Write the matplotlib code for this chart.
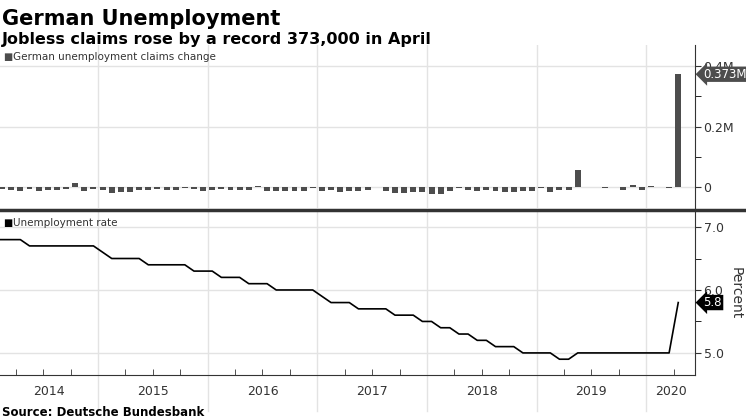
import numpy as np
import matplotlib
matplotlib.use("Agg")
import matplotlib.pyplot as plt

# Monthly, Jan 2014 .. Apr 2020 (thousands)
claims_k = [-10, -6, -8, -12, -6, -12, -8, -10, -5, 14, -14, -6,
            -10, -18, -16, -15, -8, -10, -5, -8, -10, -4, -6, -12,
            -10, -6, -10, -10, -8, 4, -14, -14, -14, -14, -14, -4,
            -14, -10, -16, -12, -14, -10, 0, -14, -18, -18, -16, -16,
            -22, -22, -12, -4, -10, -14, -10, -14, -16, -16, -14, -14,
            -4, -16, -8, -8, 58, 2, 0, -4, 2, -10,
            8, -8, 4, 0, -2, 373]
rate = [6.8, 6.8, 6.8, 6.8, 6.7, 6.7, 6.7, 6.7, 6.7, 6.7, 6.7, 6.7,
        6.6, 6.5, 6.5, 6.5, 6.5, 6.4, 6.4, 6.4, 6.4, 6.4, 6.3, 6.3,
        6.3, 6.2, 6.2, 6.2, 6.1, 6.1, 6.1, 6.0, 6.0, 6.0, 6.0, 6.0,
        5.9, 5.8, 5.8, 5.8, 5.7, 5.7, 5.7, 5.7, 5.6, 5.6, 5.6, 5.5,
        5.5, 5.4, 5.4, 5.3, 5.3, 5.2, 5.2, 5.1, 5.1, 5.1, 5.0, 5.0,
        5.0, 5.0, 4.9, 4.9, 5.0, 5.0, 5.0, 5.0, 5.0, 5.0, 5.0, 5.0,
        5.0, 5.0, 5.0, 5.8]
years = [2014, 2015, 2016, 2017, 2018, 2019, 2020]

t = 2014 + np.arange(len(rate)) / 12 + 1 / 24
xmin, xmax = 2014.106, 2020.447

fig = plt.figure(figsize=(7.46, 4.18), dpi=100)
fig.patch.set_facecolor("white")
fig.text(0.003, 0.94, "German Unemployment", fontsize=15, fontweight="bold")
fig.text(0.003, 0.895, "Jobless claims rose by a record 373,000 in April", fontsize=11.5, fontweight="bold")
fig.text(0.003, 0.005, "Source: Deutsche Bundesbank", fontsize=8.5, fontweight="bold")

ax1 = fig.add_axes([0.0, 0.502, 0.932, 0.39])
ax2 = fig.add_axes([0.0, 0.103, 0.932, 0.39])

ax1.bar(t, np.array(claims_k) / 1000, width=1 / 12 * 0.65, color="#4d4d4d")
ax1.set_ylim(-0.069, 0.469)
ax1.set_yticks([0, 0.2, 0.4])
ax1.set_yticklabels(["0", "0.2M", "0.4M"])
ax1.set_yticks([0.1, 0.3], minor=True)
ax1.axhline(0, color="#888888", lw=0.6, ls=(0, (4, 3)), zorder=0)

ax2.plot(t, rate, color="black", lw=1.2)
ax2.set_ylim(4.65, 7.24)
ax2.set_yticks([5.0, 6.0, 7.0])
ax2.set_yticklabels(["5.0", "6.0", "7.0"])
ax2.set_yticks([5.5, 6.5], minor=True)

for ax in (ax1, ax2):
    ax.set_xlim(xmin, xmax)
    ax.yaxis.tick_right()
    ax.tick_params(axis="y", labelsize=9, colors="#333333", direction="out", length=4, pad=2)
    ax.tick_params(axis="y", which="minor", length=4)
    for s in ("top", "left", "bottom"):
        ax.spines[s].set_visible(False)
    ax.spines["right"].set_color("#333333")
    for y in years[1:]:
        ax.axvline(y, color="#e3e3e3", lw=1, zorder=0)
    ax.grid(axis="y", color="#e3e3e3", lw=1)
    ax.set_axisbelow(True)

ax1.set_xticks([])
ax2.spines["bottom"].set_visible(True)
ax2.spines["bottom"].set_color("#333333")
ax2.set_xticks(years[1:])
ax2.set_xticklabels([])
ax2.tick_params(axis="x", length=0)
ax2.set_xticks(np.arange(2014.25, 2020.45, 0.25), minor=True)
ax2.tick_params(axis="x", which="minor", length=4, color="#333333", direction="in")

for y in years:
    lo, hi = max(y, xmin), min(y + 1, xmax)
    ax2.text((lo + hi) / 2, -0.1, str(y), transform=ax2.get_xaxis_transform(),
             ha="center", va="center", fontsize=9, color="#333333")
for y in years[1:]:
    ax2.plot([y, y], [-0.22, 0], transform=ax2.get_xaxis_transform(), color="#e3e3e3", lw=1, clip_on=False)

fig.add_artist(plt.Line2D([0, 1], [0.497, 0.497], color="#333333", lw=2.5))

ax2.set_ylabel("Percent", fontsize=10, rotation=270, labelpad=14, color="#333333")
ax2.yaxis.set_label_position("right")

ax1.text(0.005, 0.93, "■", transform=ax1.transAxes, fontsize=7, color="#4d4d4d", va="center")
ax1.text(0.018, 0.93, "German unemployment claims change", transform=ax1.transAxes, fontsize=7.5,
         color="#333333", va="center")
ax2.text(0.005, 0.93, "■", transform=ax2.transAxes, fontsize=7, color="black", va="center")
ax2.text(0.018, 0.93, "Unemployment rate", transform=ax2.transAxes, fontsize=7.5, color="#333333", va="center")

ax1.annotate("0.373M", xy=(1.0, 0.373), xycoords=("axes fraction", "data"), xytext=(6, 0),
             textcoords="offset points", fontsize=8.5, color="white", va="center", ha="left",
             bbox=dict(boxstyle="larrow,pad=0.1", fc="#4d4d4d", ec="none"), annotation_clip=False)
ax2.annotate("5.8", xy=(1.0, 5.8), xycoords=("axes fraction", "data"), xytext=(6, 0),
             textcoords="offset points", fontsize=8.5, color="white", va="center", ha="left",
             bbox=dict(boxstyle="larrow,pad=0.1", fc="black", ec="none"), annotation_clip=False)

fig.savefig("out.png", dpi=100)
